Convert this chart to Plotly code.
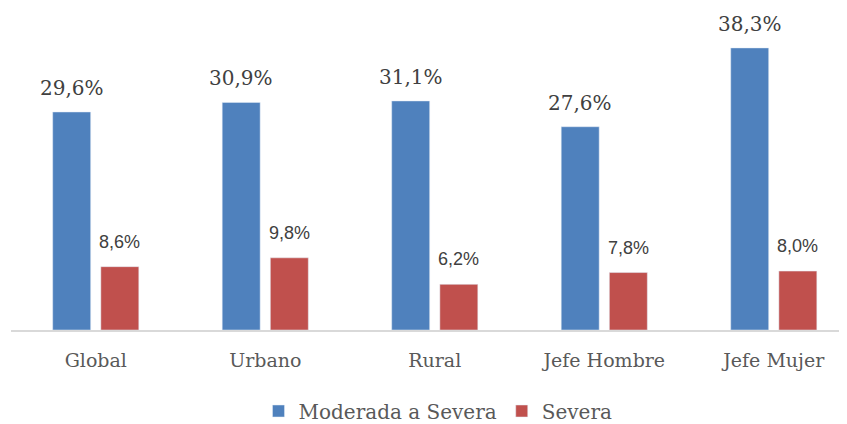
import plotly.graph_objects as go

categories = ["Global", "Urbano", "Rural", "Jefe Hombre", "Jefe Mujer"]
moderada_severa = [29.6, 30.9, 31.1, 27.6, 38.3]
severa = [8.6, 9.8, 6.2, 7.8, 8.0]
series_names = ["Moderada a Severa", "Severa"]

BLUE = "#4F81BD"
RED = "#C0504D"
SERIF = "DejaVu Serif"
SANS = "Liberation Sans"

W = 0.224
OFF = 0.142
xs = list(range(len(categories)))

fig = go.Figure()
fig.add_trace(go.Bar(x=xs, y=moderada_severa, name=series_names[0], marker_color=BLUE,
                     width=W, offset=-OFF - W / 2, hoverinfo="skip"))
fig.add_trace(go.Bar(x=xs, y=severa, name=series_names[1], marker_color=RED,
                     width=W, offset=OFF - W / 2, hoverinfo="skip"))

def fmt(v):
    return f"{v:.1f}".replace(".", ",") + "%"

for i, v in enumerate(moderada_severa):
    fig.add_annotation(x=i - OFF, y=v, text=fmt(v), showarrow=False, yanchor="middle",
                       yshift=24, font=dict(family=SERIF, size=20, color="#404040"))
for i, v in enumerate(severa):
    fig.add_annotation(x=i + OFF, y=v, text=fmt(v), showarrow=False, yanchor="middle",
                       yshift=25, font=dict(family=SANS, size=18, color="#404040"))

# page body adds an 8px margin, so the figure is 8px smaller and shifted
FW, FH = 839, 416
fig.update_layout(
    width=FW, height=FH,
    margin=dict(l=3, r=0, t=12, b=94, autoexpand=False),
    plot_bgcolor="white", paper_bgcolor="white",
    barmode="overlay",
    showlegend=True,
    legend=dict(orientation="h", x=430 / FW, xanchor="center", xref="container",
                y=13 / FH, yanchor="middle", yref="container",
                font=dict(family=SERIF, size=20, color="#595959"),
                itemwidth=30, traceorder="normal"),
    xaxis=dict(range=[-0.5, 4.432], tickvals=xs, ticktext=categories,
               showgrid=False, zeroline=False, showline=True, linecolor="#D9D9D9", linewidth=2,
               ticks="outside", ticklen=12, tickcolor="rgba(0,0,0,0)",
               tickfont=dict(family=SERIF, size=19, color="#595959")),
    yaxis=dict(range=[0, 42.09], visible=False),
)

fig.write_html("out.html")
